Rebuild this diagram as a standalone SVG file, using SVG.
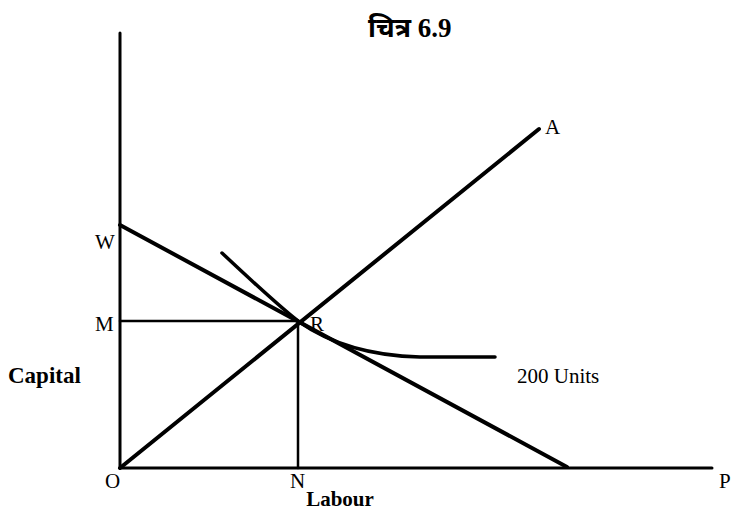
<svg xmlns="http://www.w3.org/2000/svg" width="732" height="510" viewBox="0 0 732 510">
<style>
.t{font-family:"Liberation Serif","Noto Sans",serif;font-size:21px;fill:#000}
.b{font-weight:bold}
.ln{stroke:#000;fill:none;stroke-linecap:round}
</style>
<rect width="732" height="510" fill="#fff"/>
<g id="connectors">
<line class="ln" x1="120" y1="33" x2="120" y2="468" stroke-width="3"/>
<line class="ln" x1="120" y1="468" x2="712" y2="468" stroke-width="3"/>
<line class="ln" x1="120" y1="468" x2="539" y2="129" stroke-width="4"/>
<line class="ln" x1="120" y1="225" x2="567" y2="467" stroke-width="4"/>
<line class="ln" x1="120" y1="321" x2="298" y2="321" stroke-width="2.5"/>
<line class="ln" x1="298" y1="321" x2="298" y2="468" stroke-width="2.5"/>
<path class="ln" d="M222,253 C255,284 280,307 298,321 C332,345 372,356 420,357 L495,357" stroke-width="3.5"/>
</g>
<g id="title"><text class="t b" x="368" y="37" style="font-size:27px">चित्र 6.9</text></g>
<g id="W"><text class="t" x="95" y="249">W</text></g>
<g id="M"><text class="t" x="95" y="331">M</text></g>
<g id="Capital"><text class="t b" x="8" y="383" style="font-size:23px">Capital</text></g>
<g id="O"><text class="t" x="105" y="488">O</text></g>
<g id="N"><text class="t" x="290" y="488">N</text></g>
<g id="Labour"><text class="t b" x="340" y="506" text-anchor="middle">Labour</text></g>
<g id="P"><text class="t" x="719" y="488">P</text></g>
<g id="R"><text class="t" x="310" y="331">R</text></g>
<g id="A"><text class="t" x="545" y="134">A</text></g>
<g id="units"><text class="t" x="517" y="383">200 Units</text></g>
</svg>
